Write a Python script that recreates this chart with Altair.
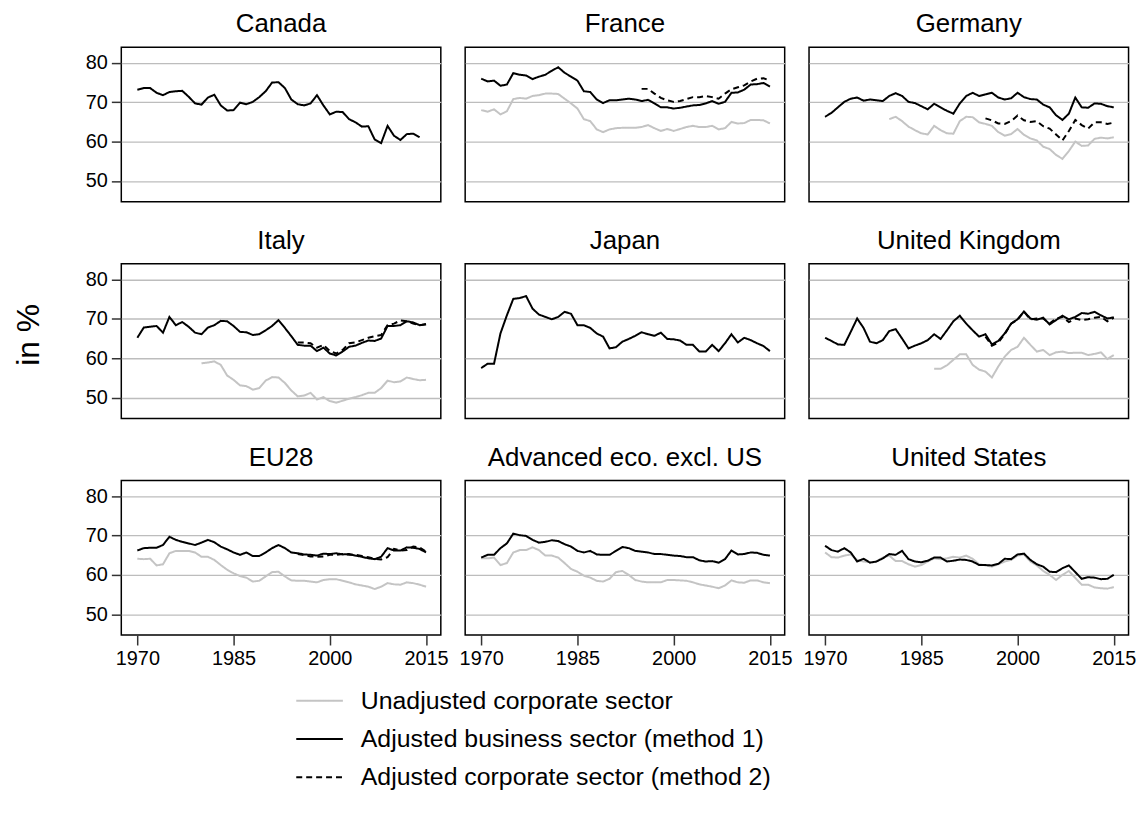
import altair as alt
import pandas as pd

FONT = "Liberation Sans"

SERIES = [
    "Unadjusted corporate sector",
    "Adjusted business sector (method 1)",
    "Adjusted corporate sector (method 2)",
]
COUNTRIES = [
    "Canada", "France", "Germany",
    "Italy", "Japan", "United Kingdom",
    "EU28", "Advanced eco. excl. US", "United States",
]
YEAR_TICKS = [1970, 1985, 2000, 2015]
PCT_TICKS = [50, 60, 70, 80]

# ---- Canada ----
canada_m1_start = 1970
canada_m1 = [73.2, 73.6, 73.6, 72.4, 71.8, 72.6, 72.8, 72.9, 71.4, 69.7, 69.4, 71.2, 71.9, 69.2, 67.9,
             68.0, 69.9, 69.5, 70.1, 71.3, 72.8, 75.0, 75.1, 73.6, 70.7, 69.5, 69.2, 69.7, 71.8, 69.2,
             66.9, 67.6, 67.5, 65.7, 64.9, 63.8, 63.9, 60.5, 59.6, 64.0, 61.5, 60.4, 61.9, 62.0, 61.1]

# ---- France ----
france_m1_start = 1970
france_m1 = [76.0, 75.3, 75.5, 74.2, 74.5, 77.4, 77.0, 76.8, 75.9, 76.5, 77.0, 78.0, 78.9, 77.5, 76.5,
             75.5, 72.8, 72.6, 70.7, 69.8, 70.5, 70.5, 70.7, 70.9, 70.7, 70.3, 70.6, 69.7, 68.7, 68.7,
             68.4, 68.6, 68.9, 69.2, 69.3, 69.7, 70.3, 69.6, 70.1, 72.4, 72.5, 73.2, 74.5, 74.6, 74.9, 74.0]
france_un_start = 1970
france_un = [68.0, 67.6, 68.2, 66.9, 67.7, 70.8, 71.1, 70.9, 71.6, 71.8, 72.2, 72.2, 72.1, 70.9, 69.7,
             68.4, 65.7, 65.2, 63.1, 62.4, 63.1, 63.4, 63.5, 63.5, 63.5, 63.7, 64.2, 63.4, 62.7, 63.2,
             62.7, 63.2, 63.7, 64.0, 63.7, 63.7, 64.0, 63.1, 63.4, 65.0, 64.6, 64.7, 65.5, 65.5, 65.4, 64.6]
france_m2_start = 1995
france_m2 = [73.4, 73.4, 72.2, 71.1, 70.5, 70.1, 70.3, 70.8, 71.3, 71.3, 71.6, 71.3, 70.9, 72.2, 73.3,
             73.8, 74.3, 75.3, 76.0, 76.1, 75.5]

# ---- Germany ----
germany_m1_start = 1970
germany_m1 = [66.3, 67.3, 68.7, 70.1, 70.9, 71.2, 70.4, 70.7, 70.5, 70.3, 71.6, 72.3, 71.6, 70.1, 69.8,
              69.0, 68.2, 69.6, 68.7, 67.8, 67.1, 69.7, 71.6, 72.4, 71.6, 72.0, 72.4, 71.2, 70.7, 71.0,
              72.4, 71.3, 70.8, 70.7, 69.4, 68.7, 66.7, 65.5, 67.1, 71.2, 68.7, 68.6, 69.7, 69.6, 69.0, 68.7]
germany_un_start = 1980
germany_un = [65.7, 66.3, 65.2, 63.8, 62.9, 62.1, 61.8, 64.0, 62.9, 62.1, 62.0, 65.2, 66.3, 66.2, 64.9,
              64.5, 64.0, 62.4, 61.5, 61.9, 63.2, 61.7, 60.8, 60.3, 58.7, 58.1, 56.6, 55.6, 57.6, 60.0,
              58.9, 59.0, 60.7, 61.0, 60.8, 61.1]
germany_m2_start = 1995
germany_m2 = [65.9, 65.4, 64.6, 64.5, 65.2, 66.6, 65.4, 65.0, 65.2, 63.9, 63.3, 61.8, 60.3, 62.7, 65.5,
              64.2, 63.3, 64.9, 64.9, 64.5, 64.8]

# ---- Italy ----
italy_m1_start = 1970
italy_m1 = [65.2, 67.8, 68.0, 68.2, 66.5, 70.5, 68.4, 69.2, 68.0, 66.5, 66.1, 67.8, 68.4, 69.5, 69.4,
            68.2, 66.7, 66.6, 65.9, 66.1, 67.1, 68.2, 69.7, 67.7, 65.6, 63.4, 63.2, 63.2, 61.8, 62.7,
            61.2, 60.7, 61.7, 62.9, 63.2, 63.9, 64.5, 64.4, 65.0, 68.2, 68.2, 68.4, 69.4, 69.1, 68.4, 68.6]
italy_un_start = 1980
italy_un = [58.7, 58.9, 59.2, 58.3, 55.6, 54.5, 53.1, 52.9, 52.0, 52.4, 54.3, 55.2, 55.1, 53.7, 51.8,
            50.3, 50.5, 51.2, 49.5, 50.1, 49.1, 48.7, 49.2, 49.7, 50.1, 50.6, 51.2, 51.2, 52.4, 54.3,
            53.9, 54.1, 55.1, 54.7, 54.4, 54.5]
italy_m2_start = 1995
italy_m2 = [64.0, 64.0, 63.8, 62.7, 63.4, 61.8, 61.2, 62.1, 63.8, 64.0, 64.6, 65.2, 65.6, 65.9, 68.4,
            68.8, 69.6, 69.4, 68.8, 68.4, 68.7]

# ---- Japan ----
japan_m1_start = 1970
japan_m1 = [57.5, 58.6, 58.6, 66.3, 70.9, 75.1, 75.3, 75.8, 72.6, 71.1, 70.5, 69.9, 70.5, 71.8, 71.3,
            68.4, 68.4, 67.7, 66.3, 65.5, 62.5, 62.8, 64.2, 64.9, 65.7, 66.6, 66.1, 65.7, 66.5, 64.9,
            64.8, 64.5, 63.4, 63.4, 61.7, 61.7, 63.4, 61.8, 63.8, 66.1, 64.0, 65.2, 64.6, 63.8, 63.1, 61.8]

# ---- United Kingdom ----
uk_m1_start = 1970
uk_m1 = [65.2, 64.4, 63.5, 63.4, 66.7, 70.1, 67.7, 64.2, 63.8, 64.6, 66.9, 67.4, 65.0, 62.5, 63.2,
         63.8, 64.6, 66.1, 64.9, 67.1, 69.4, 70.8, 68.8, 67.1, 65.5, 66.1, 63.5, 64.4, 66.3, 68.8,
         69.9, 71.9, 70.1, 69.8, 70.3, 68.6, 69.7, 70.8, 69.9, 70.5, 71.5, 71.3, 71.8, 70.9, 70.1, 70.4]
uk_un_start = 1987
uk_un = [57.3, 57.3, 58.2, 59.6, 61.0, 61.0, 58.3, 57.1, 56.6, 55.1, 57.9, 60.4, 62.1, 62.9, 65.2,
         63.4, 61.7, 62.1, 60.8, 61.5, 61.7, 61.3, 61.4, 61.4, 60.8, 61.1, 61.5, 59.8, 60.8]
uk_m2_start = 1995
uk_m2 = [65.5, 63.2, 64.0, 66.1, 68.8, 69.8, 71.8, 69.9, 70.1, 70.1, 68.8, 70.1, 70.5, 69.2, 70.1,
         69.7, 69.9, 70.3, 70.5, 69.4, 70.3]

# ---- EU28 ----
eu_m1_start = 1970
eu_m1 = [66.2, 66.8, 66.9, 66.9, 67.6, 69.7, 68.9, 68.4, 68.0, 67.6, 68.2, 68.9, 68.3, 67.2, 66.5,
         65.7, 65.1, 65.7, 64.8, 64.8, 65.7, 66.8, 67.6, 66.8, 65.7, 65.5, 65.2, 65.1, 64.9, 65.4,
         65.3, 65.5, 65.2, 65.3, 64.9, 64.6, 64.2, 64.0, 64.6, 66.8, 66.2, 66.2, 67.0, 66.9, 66.6, 65.7]
eu_un_start = 1970
eu_un = [64.1, 64.0, 64.1, 62.4, 62.7, 65.5, 66.1, 66.1, 66.1, 65.7, 64.6, 64.6, 63.8, 62.5, 61.3,
         60.4, 59.7, 59.3, 58.3, 58.5, 59.6, 60.7, 60.8, 59.6, 58.6, 58.5, 58.5, 58.3, 58.1, 58.7,
         58.9, 58.9, 58.5, 58.1, 57.6, 57.3, 57.0, 56.4, 57.0, 57.9, 57.6, 57.5, 58.1, 57.9, 57.5, 57.0]
eu_m2_start = 1995
eu_m2 = [65.3, 65.0, 64.7, 64.6, 64.7, 65.1, 65.1, 65.3, 65.1, 65.1, 64.8, 64.5, 64.1, 63.9, 64.5,
         66.6, 66.2, 66.3, 67.2, 67.0, 65.9]

# ---- Advanced economies excluding US ----
adv_m1_start = 1970
adv_m1 = [64.4, 65.1, 65.1, 66.8, 68.0, 70.5, 70.1, 69.9, 68.9, 68.2, 68.4, 68.8, 68.6, 67.8, 67.2,
          66.1, 65.7, 66.1, 65.2, 65.1, 65.1, 66.1, 67.1, 66.8, 66.1, 65.9, 65.7, 65.3, 65.3, 65.1,
          64.9, 64.8, 64.5, 64.5, 63.7, 63.4, 63.5, 63.1, 64.0, 66.2, 65.2, 65.3, 65.7, 65.6, 65.1, 64.9]
adv_un_start = 1970
adv_un = [64.2, 64.2, 64.4, 62.5, 63.0, 65.7, 66.3, 66.3, 67.0, 66.3, 64.9, 64.9, 64.4, 63.0, 61.5,
          60.8, 59.8, 59.3, 58.5, 58.3, 59.0, 60.7, 61.0, 60.0, 58.7, 58.3, 58.1, 58.1, 58.1, 58.7,
          58.7, 58.6, 58.5, 58.1, 57.6, 57.3, 57.0, 56.6, 57.3, 58.6, 58.1, 58.0, 58.6, 58.6, 58.1, 57.9]

# ---- United States ----
us_m1_start = 1970
us_m1 = [67.4, 66.3, 65.9, 66.8, 65.7, 63.4, 64.1, 63.1, 63.4, 64.2, 65.3, 65.1, 66.1, 64.0, 63.4,
         63.2, 63.6, 64.4, 64.4, 63.4, 63.6, 63.9, 63.8, 63.4, 62.5, 62.5, 62.4, 62.8, 64.1, 64.0,
         65.2, 65.4, 63.8, 62.7, 62.1, 60.8, 60.7, 61.7, 62.4, 60.7, 59.0, 59.4, 59.3, 58.9, 59.0, 60.0]
us_un_start = 1970
us_un = [65.7, 64.5, 64.4, 64.9, 65.2, 63.8, 63.4, 63.2, 63.4, 64.4, 64.9, 63.5, 63.5, 62.7, 62.1,
         62.5, 63.4, 64.2, 64.0, 64.2, 64.6, 64.4, 64.9, 64.1, 62.7, 62.4, 62.1, 62.7, 63.4, 63.8,
         64.9, 65.2, 63.4, 62.4, 61.0, 60.0, 58.7, 60.0, 61.0, 59.2, 57.5, 57.5, 56.8, 56.6, 56.5, 56.9]

rows = []


def add(country, series_idx, start, values):
    for i, v in enumerate(values):
        rows.append({"country": country, "series": SERIES[series_idx],
                     "year": start + i, "value": v})


# drawing order: unadjusted (grey), method 1 (black), method 2 (dashed)
add("France", 0, france_un_start, france_un)
add("Germany", 0, germany_un_start, germany_un)
add("Italy", 0, italy_un_start, italy_un)
add("United Kingdom", 0, uk_un_start, uk_un)
add("EU28", 0, eu_un_start, eu_un)
add("Advanced eco. excl. US", 0, adv_un_start, adv_un)
add("United States", 0, us_un_start, us_un)

add("Canada", 1, canada_m1_start, canada_m1)
add("France", 1, france_m1_start, france_m1)
add("Germany", 1, germany_m1_start, germany_m1)
add("Italy", 1, italy_m1_start, italy_m1)
add("Japan", 1, japan_m1_start, japan_m1)
add("United Kingdom", 1, uk_m1_start, uk_m1)
add("EU28", 1, eu_m1_start, eu_m1)
add("Advanced eco. excl. US", 1, adv_m1_start, adv_m1)
add("United States", 1, us_m1_start, us_m1)

add("France", 2, france_m2_start, france_m2)
add("Germany", 2, germany_m2_start, germany_m2)
add("Italy", 2, italy_m2_start, italy_m2)
add("United Kingdom", 2, uk_m2_start, uk_m2)
add("EU28", 2, eu_m2_start, eu_m2)

df = pd.DataFrame(rows)

legend_kw = dict(
    title=None, orient="none", legendX=175, legendY=633, direction="vertical",
    symbolType="stroke", symbolSize=2200, symbolStrokeWidth=2,
    labelFontSize=25, labelFont=FONT, labelColor="black", labelLimit=900,
    labelOffset=17, rowPadding=0.5, padding=0,
)

color_enc = alt.Color(
    "series:N",
    scale=alt.Scale(domain=SERIES, range=["#c4c4c4", "#000000", "#000000"]),
    legend=alt.Legend(**legend_kw),
)
dash_enc = alt.StrokeDash(
    "series:N",
    scale=alt.Scale(domain=SERIES, range=[[1, 0], [1, 0], [6, 4]]),
    legend=alt.Legend(**legend_kw),
)

X_DOMAIN = [1967.5, 2017.3]
Y_DOMAIN = [44.7, 84]


def panel(i, country):
    r, c = divmod(i, 3)
    d = df[df["country"] == country]
    xscale = alt.Scale(domain=X_DOMAIN, nice=False, zero=False)
    if r == 2:
        x = alt.X("year:Q", scale=xscale, title=None,
                  axis=alt.Axis(values=YEAR_TICKS, format="d", grid=False, domain=False,
                                ticks=True, tickSize=10, labelPadding=4))
    else:
        x = alt.X("year:Q", scale=xscale, axis=None)

    ykw = dict(values=PCT_TICKS, grid=True, domain=False, gridColor="#bdbdbd", gridWidth=1.3)
    if c == 0:
        ykw.update(ticks=True, tickSize=10, labels=True, labelPadding=4)
    else:
        ykw.update(ticks=False, labels=False)
    yscale = alt.Scale(domain=Y_DOMAIN, nice=False, zero=False)
    if country == "Italy":
        ykw.update(titleFontSize=32, titlePadding=40, titleY=71)
        y = alt.Y("value:Q", scale=yscale, title="in %", axis=alt.Axis(**ykw))
    else:
        y = alt.Y("value:Q", scale=yscale, title=None, axis=alt.Axis(**ykw))

    return (
        alt.Chart(d)
        .mark_line(strokeWidth=2)
        .encode(x=x, y=y, color=color_enc, strokeDash=dash_enc, detail="series:N")
        .properties(
            width=321.5,
            height=155.5,
            title=alt.TitleParams(country, fontSize=26, font=FONT, fontWeight="normal",
                                  anchor="middle", frame="group", baseline="alphabetic",
                                  offset=-11, color="black"),
        )
    )


panels = [panel(i, c) for i, c in enumerate(COUNTRIES)]

chart = (
    alt.concat(*panels, columns=3, spacing={"row": 62, "column": 24}, bounds="flush")
    .properties(padding={"left": 4, "top": 0, "right": 0, "bottom": 0})
    .configure_view(stroke="black", strokeWidth=1.5)
    .configure_axis(
        labelFont=FONT, labelFontSize=20, labelColor="black",
        tickColor="#333333", tickWidth=1.5,
        titleFont=FONT, titleFontWeight="normal", titleColor="black",
    )
)

chart.save("out.html", embed_options={"renderer": "svg", "actions": False})
